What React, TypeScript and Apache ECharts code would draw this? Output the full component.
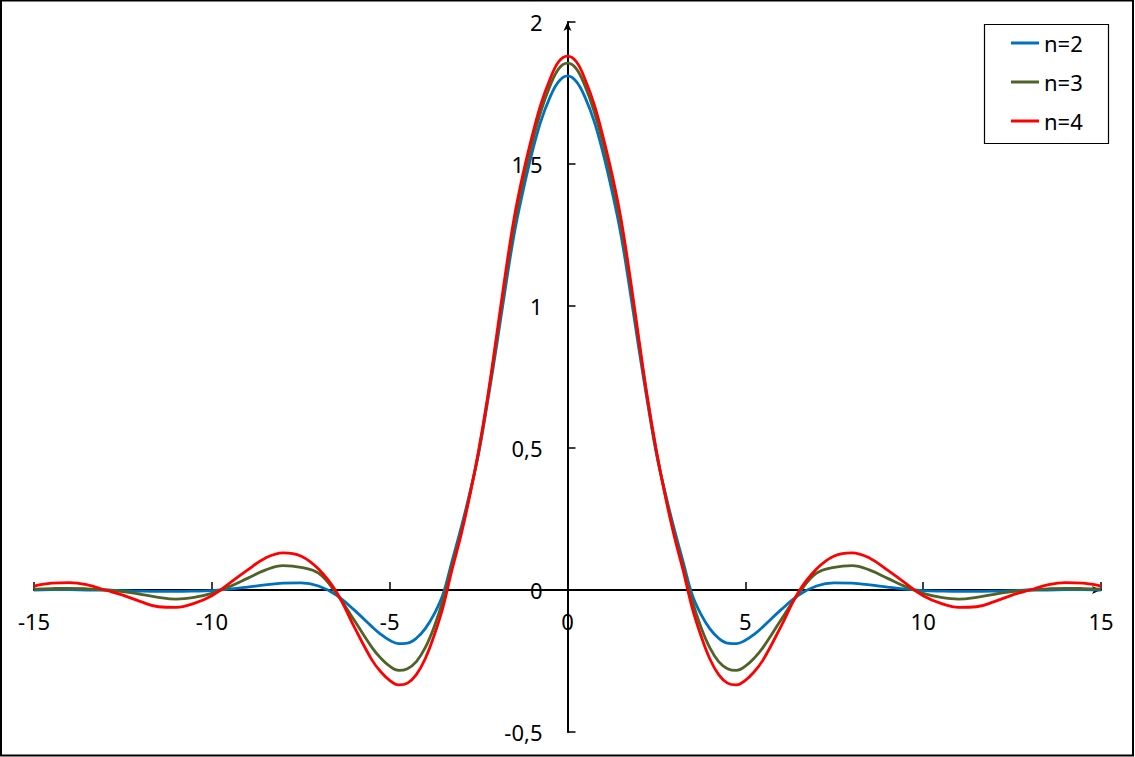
import React, { useEffect, useRef } from "react";
import * as echarts from "echarts";

const xValues = [
  -15, -14.5, -14, -13.5, -13, -12.5, -12, -11.5, -11, -10.5, -10, -9.5, -9, -8.5, -8, -7.5, -7, -6.5, -6,
  -5.5, -5.25, -5, -4.75, -4.5, -4.25, -4, -3.75, -3.5, -3.25, -3, -2.75, -2.5, -2.25, -2, -1.75, -1.5, -1.25, -1, -0.75, -0.5, -0.25,
  0,
  0.25, 0.5, 0.75, 1, 1.25, 1.5, 1.75, 2, 2.25, 2.5, 2.75, 3, 3.25, 3.5, 3.75, 4, 4.25, 4.5, 4.75, 5, 5.25, 5.5,
  6, 6.5, 7, 7.5, 8, 8.5, 9, 9.5, 10, 10.5, 11, 11.5, 12, 12.5, 13, 13.5, 14, 14.5, 15,
];

const seriesNames = ["n=2", "n=3", "n=4"];

const n2Values = [
  0, 0.001, 0.001, 0, 0, -0.002, -0.004, -0.005, -0.005, -0.004, -0.002, 0.003, 0.01, 0.018, 0.024, 0.025, 0.014, -0.018, -0.07,
  -0.129, -0.156, -0.177, -0.189, -0.187, -0.17, -0.136, -0.085, -0.015, 0.1, 0.215, 0.34, 0.48, 0.66, 0.855, 1.06, 1.253, 1.405, 1.538, 1.65, 1.733, 1.79,
  1.81,
  1.79, 1.733, 1.65, 1.538, 1.405, 1.253, 1.06, 0.855, 0.66, 0.48, 0.34, 0.215, 0.1, -0.015, -0.085, -0.136, -0.17, -0.187, -0.189, -0.177, -0.156, -0.129,
  -0.07, -0.018, 0.014, 0.025, 0.024, 0.018, 0.01, 0.003, -0.002, -0.004, -0.005, -0.005, -0.004, -0.002, 0, 0, 0.001, 0.001, 0,
];

const n3Values = [
  0.003, 0.005, 0.006, 0.004, 0, -0.006, -0.015, -0.026, -0.032, -0.026, -0.012, 0.012, 0.041, 0.07, 0.086, 0.08, 0.059, -0.012, -0.106,
  -0.202, -0.24, -0.268, -0.283, -0.277, -0.252, -0.203, -0.13, -0.035, 0.085, 0.2, 0.335, 0.485, 0.67, 0.875, 1.09, 1.285, 1.44, 1.572, 1.685, 1.772, 1.835,
  1.855,
  1.835, 1.772, 1.685, 1.572, 1.44, 1.285, 1.09, 0.875, 0.67, 0.485, 0.335, 0.2, 0.085, -0.035, -0.13, -0.203, -0.252, -0.277, -0.283, -0.268, -0.24, -0.202,
  -0.106, -0.012, 0.059, 0.08, 0.086, 0.07, 0.041, 0.012, -0.012, -0.026, -0.032, -0.026, -0.015, -0.006, 0, 0.004, 0.006, 0.005, 0.003,
];

const n4Values = [
  0.014, 0.024, 0.026, 0.018, 0, -0.018, -0.041, -0.059, -0.061, -0.047, -0.02, 0.024, 0.07, 0.112, 0.131, 0.12, 0.074, -0.006, -0.129,
  -0.246, -0.288, -0.318, -0.334, -0.328, -0.298, -0.242, -0.16, -0.06, 0.07, 0.19, 0.33, 0.49, 0.675, 0.89, 1.11, 1.31, 1.465, 1.596, 1.71, 1.796, 1.86,
  1.88,
  1.86, 1.796, 1.71, 1.596, 1.465, 1.31, 1.11, 0.89, 0.675, 0.49, 0.33, 0.19, 0.07, -0.06, -0.16, -0.242, -0.298, -0.328, -0.334, -0.318, -0.288, -0.246,
  -0.129, -0.006, 0.074, 0.12, 0.131, 0.112, 0.07, 0.024, -0.02, -0.047, -0.061, -0.059, -0.041, -0.018, 0, 0.018, 0.026, 0.024, 0.014,
];

const seriesValues = [n2Values, n3Values, n4Values];
const seriesColors = ["#0070C0", "#4F6228", "#FF0000"];

const FONT = "'Noto Sans', 'Liberation Sans', sans-serif";

export default function App() {
  const ref = useRef<HTMLDivElement>(null);

  useEffect(() => {
    if (!ref.current) return;
    const chart = echarts.init(ref.current, null, { renderer: "svg" });
    const fmt = (v: number) => String(v).replace(".", ",");
    chart.setOption({
      animation: false,
      backgroundColor: "#ffffff",
      grid: { left: 34, right: 34, top: 22, bottom: 25, containLabel: false, outerBoundsMode: "none" },
      xAxis: {
        type: "value",
        min: -15,
        max: 15,
        interval: 5,
        offset: -142,
        splitLine: { show: false },
        axisLine: {
          onZero: false,
          lineStyle: { color: "#000", width: 2 },
          symbol: ["none", "arrow"],
          symbolSize: [6, 9],
        },
        axisTick: { inside: true, length: 8, lineStyle: { color: "#000", width: 1.5 } },
        axisLabel: { color: "#000", fontSize: 22, fontFamily: FONT, margin: 20, formatter: fmt },
      },
      yAxis: {
        type: "value",
        min: -0.5,
        max: 2,
        interval: 0.5,
        offset: -533.5,
        splitLine: { show: false },
        axisLine: {
          onZero: false,
          lineStyle: { color: "#000", width: 2 },
          symbol: ["none", "arrow"],
          symbolSize: [6, 9],
        },
        axisTick: { inside: true, length: 8, lineStyle: { color: "#000", width: 1.5 } },
        axisLabel: { color: "#000", fontSize: 22, fontFamily: FONT, margin: 25, formatter: fmt },
      },
      legend: {
        data: seriesNames,
        orient: "vertical",
        left: 1011,
        top: 32,
        padding: 0,
        icon: "rect",
        itemWidth: 28,
        itemHeight: 3,
        itemGap: 17,
        textStyle: { color: "#000", fontSize: 22, fontFamily: FONT },
      },
      graphic: [
        {
          type: "rect",
          shape: { x: 1, y: 0.5, width: 1132, height: 755 },
          style: { fill: "none", stroke: "#000", lineWidth: 2 },
          silent: true,
        },
        {
          type: "rect",
          shape: { x: 984.5, y: 24.5, width: 124, height: 119 },
          style: { fill: "none", stroke: "#000", lineWidth: 1.2 },
          silent: true,
        },
      ],
      series: seriesNames.map((name, si) => ({
        name,
        type: "line",
        smooth: 0.4,
        symbol: "none",
        lineStyle: { color: seriesColors[si], width: 2.8 },
        itemStyle: { color: seriesColors[si] },
        data: xValues.map((x, i) => [x, seriesValues[si][i]]),
      })),
    });
    return () => chart.dispose();
  }, []);

  return (
    <div
      ref={ref}
      style={{ position: "fixed", left: 0, top: 0, width: 1135, height: 757, background: "#fff" }}
    />
  );
}
